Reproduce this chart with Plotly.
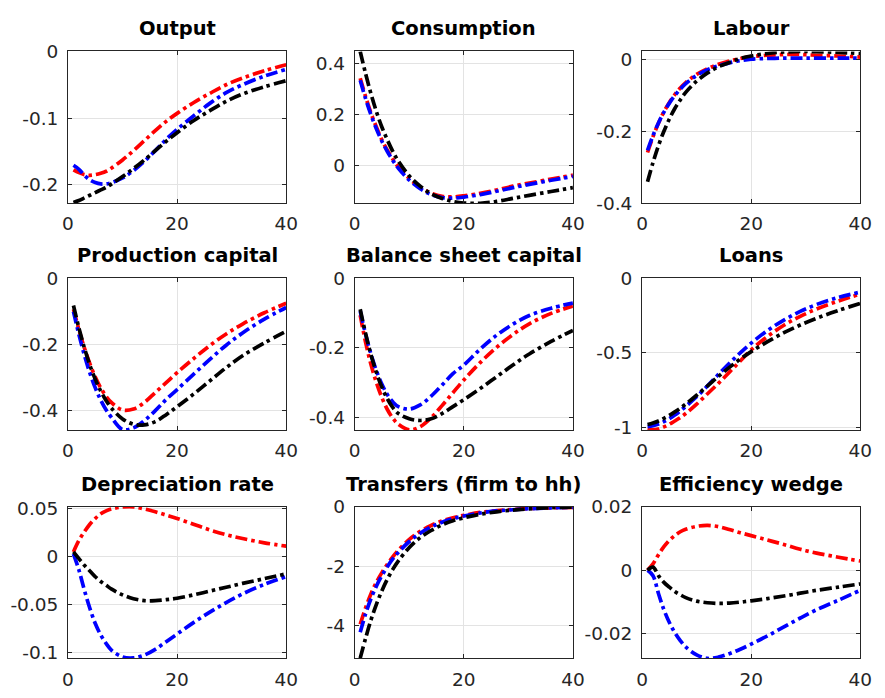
import plotly.graph_objects as go

W, H = 885, 698

# Horizon (quarters) at which each response is recorded
periods = [1, 2, 3, 4, 5, 6, 7, 8, 10, 12, 14, 16, 18, 20, 23, 26, 29, 32, 36, 40]

# Output
output_red = [-0.178, -0.182, -0.185, -0.186, -0.185, -0.183, -0.180, -0.175, -0.163, -0.149,
              -0.134, -0.119, -0.105, -0.093, -0.077, -0.063, -0.050, -0.040, -0.029, -0.020]
output_blue = [-0.171, -0.177, -0.186, -0.193, -0.197, -0.199, -0.199, -0.197, -0.190, -0.179,
               -0.165, -0.149, -0.132, -0.117, -0.097, -0.078, -0.062, -0.050, -0.037, -0.027]
output_black = [-0.227, -0.224, -0.220, -0.216, -0.212, -0.208, -0.204, -0.199, -0.188, -0.176,
                -0.163, -0.149, -0.135, -0.122, -0.104, -0.089, -0.075, -0.064, -0.053, -0.044]

# Consumption
cons_red = [0.343, 0.270, 0.205, 0.150, 0.100, 0.060, 0.025, -0.005, -0.050, -0.085,
            -0.108, -0.120, -0.122, -0.118, -0.108, -0.095, -0.080, -0.068, -0.052, -0.037]
cons_blue = [0.335, 0.262, 0.198, 0.143, 0.095, 0.055, 0.020, -0.010, -0.056, -0.090,
             -0.113, -0.125, -0.127, -0.123, -0.113, -0.100, -0.086, -0.073, -0.057, -0.042]
cons_black = [0.448, 0.360, 0.280, 0.210, 0.150, 0.100, 0.055, 0.018, -0.040, -0.080,
              -0.110, -0.128, -0.140, -0.146, -0.147, -0.140, -0.128, -0.116, -0.101, -0.086]

# Labour
lab_red = [-0.259, -0.215, -0.178, -0.146, -0.120, -0.098, -0.080, -0.065, -0.042, -0.026,
           -0.014, -0.005, 0.002, 0.007, 0.011, 0.013, 0.013, 0.011, 0.009, 0.006]
lab_blue = [-0.253, -0.212, -0.177, -0.147, -0.122, -0.101, -0.083, -0.068, -0.045, -0.029,
            -0.018, -0.010, -0.004, 0.000, 0.002, 0.003, 0.003, 0.003, 0.003, 0.003]
lab_black = [-0.340, -0.287, -0.240, -0.200, -0.166, -0.137, -0.113, -0.092, -0.061, -0.038,
             -0.021, -0.009, 0.002, 0.009, 0.016, 0.020, 0.0215, 0.021, 0.019, 0.016]

# Production capital
pk_red = [-0.093, -0.155, -0.210, -0.258, -0.298, -0.331, -0.357, -0.376, -0.398, -0.395,
          -0.375, -0.345, -0.315, -0.285, -0.243, -0.203, -0.168, -0.138, -0.104, -0.075]
pk_blue = [-0.100, -0.170, -0.232, -0.286, -0.331, -0.368, -0.398, -0.421, -0.457, -0.452,
           -0.430, -0.400, -0.366, -0.336, -0.290, -0.245, -0.202, -0.165, -0.123, -0.088]
pk_black = [-0.082, -0.150, -0.210, -0.262, -0.305, -0.341, -0.370, -0.393, -0.425, -0.441,
            -0.443, -0.433, -0.412, -0.388, -0.350, -0.310, -0.270, -0.234, -0.195, -0.160]

# Balance sheet capital
bk_red = [-0.106, -0.185, -0.250, -0.302, -0.345, -0.379, -0.404, -0.421, -0.437, -0.428,
          -0.402, -0.367, -0.330, -0.293, -0.243, -0.199, -0.162, -0.131, -0.101, -0.080]
bk_blue = [-0.094, -0.162, -0.220, -0.268, -0.306, -0.336, -0.357, -0.370, -0.377, -0.365,
           -0.340, -0.308, -0.275, -0.250, -0.204, -0.164, -0.132, -0.107, -0.086, -0.071]
bk_black = [-0.089, -0.160, -0.222, -0.273, -0.315, -0.348, -0.373, -0.390, -0.405, -0.410,
            -0.405, -0.390, -0.370, -0.350, -0.318, -0.284, -0.250, -0.218, -0.182, -0.150]

# Loans
loan_red = [-1.012, -1.018, -1.012, -0.998, -0.980, -0.958, -0.935, -0.908, -0.845, -0.775,
            -0.705, -0.630, -0.555, -0.480, -0.390, -0.315, -0.255, -0.205, -0.152, -0.105]
loan_blue = [-0.996, -0.990, -0.978, -0.962, -0.942, -0.918, -0.890, -0.860, -0.795, -0.722,
             -0.645, -0.570, -0.500, -0.435, -0.350, -0.280, -0.222, -0.175, -0.128, -0.092]
loan_black = [-0.982, -0.972, -0.958, -0.940, -0.920, -0.897, -0.872, -0.845, -0.785, -0.722,
              -0.658, -0.598, -0.542, -0.492, -0.425, -0.365, -0.313, -0.268, -0.215, -0.168]

# Depreciation rate
dep_red = [0.005, 0.017, 0.026, 0.034, 0.040, 0.045, 0.048, 0.050, 0.052, 0.0522,
           0.050, 0.047, 0.0435, 0.040, 0.034, 0.028, 0.023, 0.019, 0.0145, 0.011]
dep_blue = [0.003, -0.014, -0.035, -0.054, -0.070, -0.082, -0.091, -0.098, -0.105, -0.106,
            -0.103, -0.097, -0.089, -0.081, -0.069, -0.058, -0.048, -0.039, -0.029, -0.021]
dep_black = [0.005, -0.002, -0.009, -0.015, -0.021, -0.026, -0.030, -0.034, -0.040, -0.044,
             -0.046, -0.046, -0.045, -0.0435, -0.040, -0.036, -0.032, -0.028, -0.023, -0.018]

# Transfers (firm to hh)
tr_red = [-3.96, -3.40, -2.92, -2.53, -2.21, -1.93, -1.68, -1.46, -1.10, -0.83,
          -0.63, -0.48, -0.37, -0.29, -0.19, -0.13, -0.09, -0.06, -0.035, -0.02]
tr_blue = [-4.23, -3.60, -3.08, -2.66, -2.31, -2.01, -1.75, -1.53, -1.17, -0.89,
           -0.68, -0.52, -0.40, -0.31, -0.21, -0.14, -0.10, -0.065, -0.035, -0.02]
tr_black = [-5.10, -4.42, -3.80, -3.27, -2.82, -2.43, -2.10, -1.82, -1.37, -1.04,
            -0.80, -0.61, -0.47, -0.37, -0.25, -0.17, -0.11, -0.07, -0.03, -0.01]

# Efficiency wedge
eff_red = [0.0, 0.0020, 0.0049, 0.0074, 0.0094, 0.0109, 0.0121, 0.0129, 0.0138, 0.0141,
           0.0137, 0.0128, 0.0118, 0.0109, 0.0095, 0.0081, 0.0066, 0.0054, 0.0041, 0.0029]
eff_blue = [0.0, -0.0017, -0.0073, -0.0124, -0.0164, -0.0196, -0.0221, -0.0241, -0.0266, -0.0277,
            -0.0273, -0.0262, -0.0248, -0.0232, -0.0206, -0.0178, -0.0150, -0.0124, -0.0094, -0.0063]
eff_black = [0.0, 0.0010, -0.0017, -0.0038, -0.0053, -0.0067, -0.0077, -0.0086, -0.0097, -0.0102,
             -0.0104, -0.0103, -0.0100, -0.0096, -0.0089, -0.0081, -0.0072, -0.0063, -0.0053, -0.0043]

titles = ["Output", "Consumption", "Labour",
          "Production capital", "Balance sheet capital", "Loans",
          "Depreciation rate", "Transfers (firm to hh)", "Efficiency wedge"]
series = [
    (output_red, output_blue, output_black),
    (cons_red, cons_blue, cons_black),
    (lab_red, lab_blue, lab_black),
    (pk_red, pk_blue, pk_black),
    (bk_red, bk_blue, bk_black),
    (loan_red, loan_blue, loan_black),
    (dep_red, dep_blue, dep_black),
    (tr_red, tr_blue, tr_black),
    (eff_red, eff_blue, eff_black),
]
y_ranges = [[-0.228, 0.0], [-0.147, 0.448], [-0.4, 0.0216],
            [-0.459, 0.0], [-0.438, 0.0], [-1.02, 0.0],
            [-0.1065, 0.0524], [-5.11, 0.005], [-0.0277, 0.02]]
y_tickvals = [[-0.2, -0.1, 0], [0, 0.2, 0.4], [-0.4, -0.2, 0],
              [-0.4, -0.2, 0], [-0.4, -0.2, 0], [-1, -0.5, 0],
              [-0.1, -0.05, 0, 0.05], [-4, -2, 0], [-0.02, 0, 0.02]]
y_ticktext = [["-0.2", "-0.1", "0"], ["0", "0.2", "0.4"], ["-0.4", "-0.2", "0"],
              ["-0.4", "-0.2", "0"], ["-0.4", "-0.2", "0"], ["-1", "-0.5", "0"],
              ["-0.1", "-0.05", "0", "0.05"], ["-4", "-2", "0"], ["-0.02", "0", "0.02"]]
x_tickvals = [0, 20, 40]

colors = ["#ff0000", "#0000ff", "#000000"]
axis_color = "#262626"
grid_color = "#e3e3e3"

# pixel geometry of the 3x3 grid
col_left = [63.3, 356.0, 649.3]
col_w = 222.7
row_top = [41.7, 275.7, 511.0]
row_h = 156.5

fig = go.Figure()
layout = dict(
    width=W, height=H,
    margin=dict(l=0, r=0, t=0, b=0),
    paper_bgcolor="white", plot_bgcolor="white",
    showlegend=False,
    annotations=[],
)

for i in range(9):
    r, c = divmod(i, 3)
    n = i + 1
    xa = "x" if n == 1 else f"x{n}"
    ya = "y" if n == 1 else f"y{n}"
    for vals, col in zip(series[i], colors):
        fig.add_trace(go.Scatter(
            x=periods, y=vals, mode="lines",
            line=dict(color=col, width=3.7, dash="12px,4px,3.5px,4px", shape="spline"),
            xaxis=xa, yaxis=ya, hoverinfo="skip",
        ))
    x0 = col_left[c] / W
    x1 = (col_left[c] + col_w) / W
    y1 = 1 - row_top[r] / H
    y0 = 1 - (row_top[r] + row_h) / H
    common = dict(
        showline=True, linecolor=axis_color, linewidth=1, mirror="ticks",
        ticks="inside", ticklen=4, tickcolor=axis_color, tickwidth=1,
        showgrid=True, gridcolor=grid_color, gridwidth=1, zeroline=False,
        tickfont=dict(family="DejaVu Sans", size=18.5, color=axis_color),
    )
    layout[f"xaxis{n}"] = dict(
        domain=[x0, x1], anchor=ya,
        range=[0, 40], tickvals=x_tickvals, ticktext=[str(v) for v in x_tickvals],
        ticklabelstandoff=4, **common)
    layout[f"yaxis{n}"] = dict(
        domain=[y0, y1], anchor=xa,
        range=y_ranges[i], tickvals=y_tickvals[i], ticktext=y_ticktext[i],
        ticklabelstandoff=5, **common)
    layout["annotations"].append(dict(
        text=f"<b>{titles[i]}</b>", showarrow=False,
        xref=f"{xa} domain", yref=f"{ya} domain", x=0.5, y=1,
        xanchor="center", yanchor="bottom", yshift=9,
        font=dict(family="DejaVu Sans", size=19.5, color="#000000"),
    ))

fig.update_layout(**layout)
fig.write_html("out.html")
